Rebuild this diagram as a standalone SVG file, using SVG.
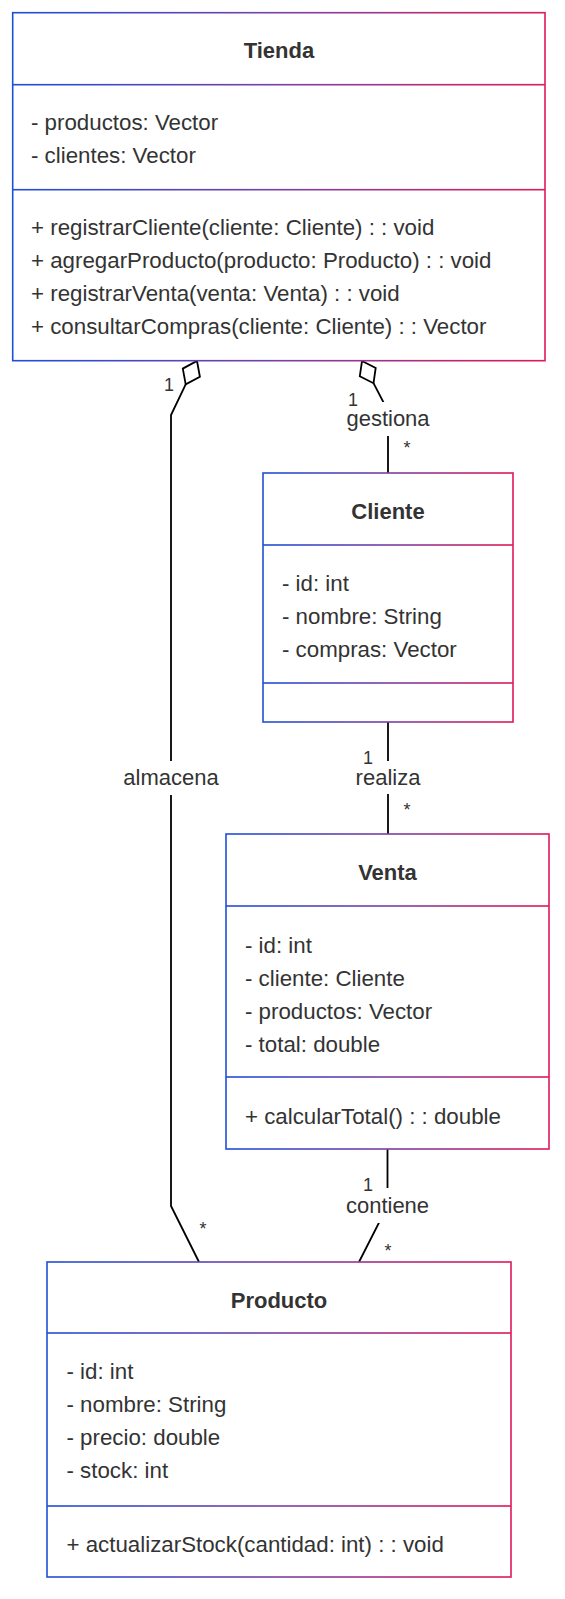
<svg xmlns="http://www.w3.org/2000/svg" width="565" height="1599" viewBox="0 0 565 1599">
<defs>
<linearGradient id="g" x1="0" y1="0" x2="1" y2="0">
<stop offset="0" stop-color="#1f4fd8"/>
<stop offset="0.5" stop-color="#7a3fa6"/>
<stop offset="1" stop-color="#e0195a"/>
</linearGradient>
<style>
.box{fill:#fff;stroke:url(#g);stroke-width:1.6}
.div{fill:url(#g)}
.t{font-family:"Liberation Sans",Arial,sans-serif;font-size:22.3px;fill:#333}
.title{font-family:"Liberation Sans",Arial,sans-serif;font-size:22px;font-weight:bold;fill:#333;text-anchor:middle}
.lbl{font-family:"Liberation Sans",Arial,sans-serif;font-size:22px;fill:#333;text-anchor:middle}
.m{font-family:"Liberation Sans",Arial,sans-serif;font-size:18px;fill:#333;text-anchor:middle}
.e{fill:none;stroke:#000;stroke-width:1.8}
.d{fill:#fff;stroke:#000;stroke-width:1.8}
.bg{fill:#fff}
</style>
</defs>
<rect width="565" height="1599" fill="#fff"/>
<g id="connectors">
<path class="e" d="M185.7,384.4 L171,415 L171,1206 L199,1262"/>
<path class="e" d="M373.5,383.2 L388,411 L388,473"/>
<path class="e" d="M388,722 L388,834"/>
<path class="e" d="M387.5,1149 L387.5,1206 L359,1262"/>
<polygon class="d" points="197,361 199.9,376.8 185.7,384.4 182.8,368.6"/>
<polygon class="d" points="362,361 375.7,367.9 373.5,383.2 359.8,376.2"/>
<rect class="bg" x="123" y="761" width="96" height="34"/>
<text class="lbl" x="171" y="785">almacena</text>
<rect class="bg" x="346" y="402" width="84" height="34"/>
<text class="lbl" x="388" y="426">gestiona</text>
<rect class="bg" x="355" y="761" width="66" height="33"/>
<text class="lbl" x="388" y="785">realiza</text>
<rect class="bg" x="345" y="1188" width="85" height="35"/>
<text class="lbl" x="387.5" y="1213">contiene</text>
<text class="m" x="169" y="391">1</text>
<text class="m" x="203" y="1235">*</text>
<text class="m" x="353" y="406">1</text>
<text class="m" x="407" y="454">*</text>
<text class="m" x="368" y="763.5">1</text>
<text class="m" x="407" y="816">*</text>
<text class="m" x="368" y="1190.5">1</text>
<text class="m" x="388" y="1257">*</text>
</g>
<g id="Tienda">
<rect class="box" x="12.7" y="12.7" width="532.3" height="348"/>
<rect class="div" x="12.7" y="83.9" width="532.3" height="1.6"/>
<rect class="div" x="12.7" y="188.9" width="532.3" height="1.6"/>
<text class="title" x="278.9" y="58">Tienda</text>
<text class="t" x="31" y="130">- productos: Vector</text>
<text class="t" x="31" y="163">- clientes: Vector</text>
<text class="t" x="31" y="235">+ registrarCliente(cliente: Cliente) : : void</text>
<text class="t" x="31" y="268">+ agregarProducto(producto: Producto) : : void</text>
<text class="t" x="31" y="301">+ registrarVenta(venta: Venta) : : void</text>
<text class="t" x="31" y="334">+ consultarCompras(cliente: Cliente) : : Vector</text>
</g>
<g id="Cliente">
<rect class="box" x="263" y="473" width="250" height="249"/>
<rect class="div" x="263" y="544.2" width="250" height="1.6"/>
<rect class="div" x="263" y="682.2" width="250" height="1.6"/>
<text class="title" x="388" y="519">Cliente</text>
<text class="t" x="282" y="591">- id: int</text>
<text class="t" x="282" y="624">- nombre: String</text>
<text class="t" x="282" y="657">- compras: Vector</text>
</g>
<g id="Venta">
<rect class="box" x="226" y="834" width="323" height="315"/>
<rect class="div" x="226" y="905.2" width="323" height="1.6"/>
<rect class="div" x="226" y="1076.2" width="323" height="1.6"/>
<text class="title" x="387.5" y="879.5">Venta</text>
<text class="t" x="245" y="952.5">- id: int</text>
<text class="t" x="245" y="985.5">- cliente: Cliente</text>
<text class="t" x="245" y="1018.5">- productos: Vector</text>
<text class="t" x="245" y="1051.5">- total: double</text>
<text class="t" x="245" y="1123.5">+ calcularTotal() : : double</text>
</g>
<g id="Producto">
<rect class="box" x="47" y="1262" width="464" height="315"/>
<rect class="div" x="47" y="1332.2" width="464" height="1.6"/>
<rect class="div" x="47" y="1505.2" width="464" height="1.6"/>
<text class="title" x="279" y="1308">Producto</text>
<text class="t" x="66.5" y="1379">- id: int</text>
<text class="t" x="66.5" y="1412">- nombre: String</text>
<text class="t" x="66.5" y="1445">- precio: double</text>
<text class="t" x="66.5" y="1478">- stock: int</text>
<text class="t" x="66.5" y="1551.5">+ actualizarStock(cantidad: int) : : void</text>
</g>
</svg>
